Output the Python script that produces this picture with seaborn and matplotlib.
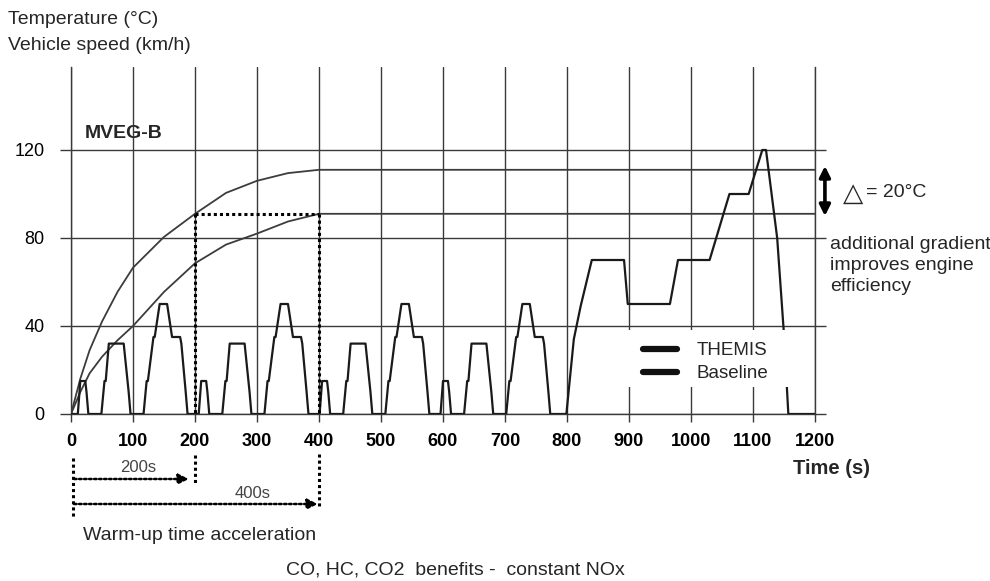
import matplotlib
matplotlib.use('Agg')
import matplotlib.pyplot as plt
from matplotlib.lines import Line2D
from matplotlib.patches import Rectangle
import seaborn as sns
import pandas as pd

# ---------------- data ----------------
speed_time = [0, 11, 15, 23, 25, 28, 49, 54, 56, 61, 85, 93, 96, 117, 122, 124, 133, 135, 143, 155, 163, 176, 178, 185, 188,
              206, 210, 218, 220, 223, 244, 249, 251, 256, 280, 288, 291, 312, 317, 319, 328, 330, 338, 350, 358, 371, 373, 380, 383,
              401, 405, 413, 415, 418, 439, 444, 446, 451, 475, 483, 486, 507, 512, 514, 523, 525, 533, 545, 553, 566, 568, 575, 578,
              596, 600, 608, 610, 613, 634, 639, 641, 646, 670, 678, 681, 702, 707, 709, 718, 720, 728, 740, 748, 761, 763, 770, 773,
              799, 811, 822, 840, 892, 898, 966, 979, 1030, 1062, 1093, 1115, 1121, 1139, 1150, 1157, 1200]
speed_kmh = [0, 0, 15, 15, 10, 0, 0, 15, 15, 32, 32, 10, 0, 0, 15, 15, 35, 35, 50, 50, 35, 35, 32, 10, 0,
             0, 15, 15, 10, 0, 0, 15, 15, 32, 32, 10, 0, 0, 15, 15, 35, 35, 50, 50, 35, 35, 32, 10, 0,
             0, 15, 15, 10, 0, 0, 15, 15, 32, 32, 10, 0, 0, 15, 15, 35, 35, 50, 50, 35, 35, 32, 10, 0,
             0, 15, 15, 10, 0, 0, 15, 15, 32, 32, 10, 0, 0, 15, 15, 35, 35, 50, 50, 35, 35, 32, 10, 0,
             0, 34, 49, 70, 70, 50, 50, 70, 70, 100, 100, 120, 120, 80, 36, 0, 0]

temp_time = [0, 15, 30, 50, 75, 100, 150, 200, 250, 300, 350, 400, 1200]
temp_themis = [0, 16, 29, 42, 55.5, 66.5, 80.5, 91, 100.5, 106, 109.5, 111, 111]
temp_baseline = [0, 10, 18.5, 26, 33.5, 40, 55.5, 68.5, 77, 82, 87.5, 91, 91]

x_ticks = [0, 100, 200, 300, 400, 500, 600, 700, 800, 900, 1000, 1100, 1200]
y_ticks = [0, 40, 80, 120]
legend_labels = ['THEMIS', 'Baseline']

# ---------------- style ----------------
sns.set_theme(style='white')
plt.rcParams['font.family'] = ['Liberation Sans', 'DejaVu Sans']

GRID = '#3a3a3a'
FS = 14
W, H = 990, 581
X0, X1, Y0, Y1 = 71, 815, 414, 67
PX_PER_Y = 2.2

fig = plt.figure(figsize=(W / 100, H / 100), dpi=100)
ax = fig.add_axes([X0 / W, 1 - Y0 / H, (X1 - X0) / W, (Y0 - Y1) / H])
ax.set_xlim(0, 1200)
ax.set_ylim(0, (Y0 - Y1) / PX_PER_Y)


def fx(px):
    return px / W


def fy(py):
    return 1 - py / H


def ydat(py):
    return (Y0 - py) / PX_PER_Y


# grid
ax.set_xticks(x_ticks)
ax.set_yticks(y_ticks)
ax.grid(True, color=GRID, lw=1.0)
for side in ['left', 'right', 'bottom']:
    ax.spines[side].set_color(GRID)
    ax.spines[side].set_linewidth(1.0)
ax.spines['top'].set_visible(False)

ax.tick_params(axis='x', bottom=True, direction='out', length=6, width=1, color=GRID,
               pad=8, labelsize=13, labelcolor='black')
ax.tick_params(axis='y', left=True, right=True, direction='out', length=8, width=1, color=GRID,
               pad=11, labelsize=13, labelcolor='black')
ax.set_xticklabels([str(v) for v in x_ticks])
for lbl in ax.get_xticklabels():
    lbl.set_fontweight('bold')

# curves
df_speed = pd.DataFrame({'t': speed_time, 'v': speed_kmh})
df_temp = pd.DataFrame({'t': temp_time, 'themis': temp_themis, 'base': temp_baseline})
sns.lineplot(data=df_temp, x='t', y='themis', ax=ax, color='#3c3c3c', lw=1.3, estimator=None, zorder=3)
sns.lineplot(data=df_temp, x='t', y='base', ax=ax, color='#3c3c3c', lw=1.3, estimator=None, zorder=3)
sns.lineplot(data=df_speed, x='t', y='v', ax=ax, color='#1a1a1a', lw=1.6, estimator=None, zorder=3)
ax.set_xlabel('')
ax.set_ylabel('')

# dotted warm-up guides
DOT = dict(color='black', lw=2.2, linestyle=(0, (1, 1)), zorder=4)
ax.plot([200, 200], [temp_themis[7], 0], **DOT)
ax.plot([400, 400], [temp_baseline[11], 0], **DOT)
ax.plot([200, 400], [temp_themis[7], temp_baseline[11]], **DOT)
ax.plot([200, 200], [ydat(455), ydat(484)], clip_on=False, **DOT)
ax.plot([400, 400], [ydat(454), ydat(508)], clip_on=False, **DOT)
ax.plot([4, 4], [ydat(458), ydat(518)], clip_on=False, **DOT)

ARW = dict(arrowstyle='-|>', linestyle=(0, (1, 1)), lw=1.8, color='black',
           mutation_scale=15, shrinkA=0, shrinkB=0)
ax.annotate('', xy=(190, ydat(479)), xytext=(5, ydat(479)), arrowprops=ARW, annotation_clip=False)
ax.annotate('', xy=(398, ydat(504)), xytext=(5, ydat(504)), arrowprops=ARW, annotation_clip=False)
fig.text(fx(138), fy(468), '200s', ha='center', va='center', fontsize=12, color='#444444')
fig.text(fx(253), fy(494), '400s', ha='center', va='center', fontsize=12, color='#444444')

# delta arrow
ax.annotate('', xy=(1216, ydat(166)), xytext=(1216, ydat(216)),
            arrowprops=dict(arrowstyle='<|-|>', lw=2.6, color='black', mutation_scale=16,
                            shrinkA=0, shrinkB=0), annotation_clip=False)
fig.text(fx(843), fy(194), '\u25B3', ha='left', va='center', fontsize=19, family=['DejaVu Sans'])
fig.text(fx(866), fy(193), '= 20°C', ha='left', va='center', fontsize=FS)
fig.text(fx(830), fy(236), 'additional gradient\nimproves engine\nefficiency', ha='left', va='top',
         fontsize=FS, linespacing=1.3)

# legend (white patch hides the lines behind it)
ax.add_patch(Rectangle((fx(612), fy(387)), fx(805) - fx(612), fy(330) - fy(387),
                       transform=fig.transFigure, facecolor='white', edgecolor='none', zorder=5))
handles = [Line2D([0], [0], color='#111111', lw=4.5) for _ in legend_labels]
leg = ax.legend(handles, legend_labels, loc='upper left', bbox_to_anchor=(fx(632), fy(331)),
                bbox_transform=fig.transFigure, frameon=False,
                fontsize=13.5, handlelength=1.8, handletextpad=1.05,
                labelspacing=0.3, borderpad=0.6, borderaxespad=0)
leg.set_zorder(6)

# texts
fig.text(fx(8), fy(20), 'Temperature (°C)', ha='left', va='center', fontsize=FS)
fig.text(fx(8), fy(45), 'Vehicle speed (km/h)', ha='left', va='center', fontsize=FS)
ax.text(22, ydat(133), 'MVEG-B', ha='left', va='center', fontsize=FS, fontweight='bold')
fig.text(fx(793), fy(468), 'Time (s)', ha='left', va='center', fontsize=14.5, fontweight='bold')
fig.text(fx(83), fy(535), 'Warm-up time acceleration', ha='left', va='center', fontsize=FS)
fig.text(fx(286), fy(570), 'CO, HC, CO2  benefits -  constant NOx', ha='left', va='center', fontsize=FS)

fig.savefig('out.png', dpi=100)
